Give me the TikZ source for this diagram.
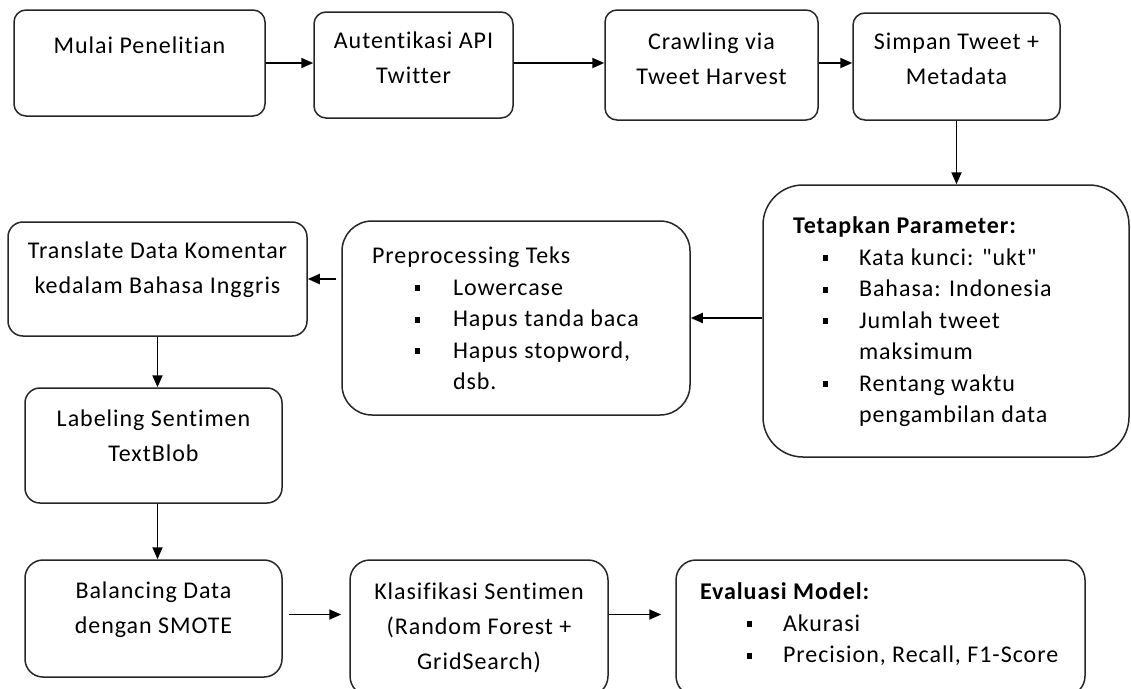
\documentclass[tikz,border=0pt]{standalone}
\usepackage{fontspec}
\setmainfont{Carlito}[LetterSpace=4,Ligatures={TeXOff,NoCommon}]
\usetikzlibrary{arrows.meta}

% box contents: width, height, top gap, text
\newcommand{\txtbox}[4]{\parbox[c][#2][t]{#1}{\vspace*{#3}\centering\strut#4}}
\newcommand{\lstbox}[4]{\parbox[c][#2][t]{#1}{\vspace*{#3}\raggedright\strut#4}}
\newcommand{\bul}[2]{\hspace*{#1}\makebox[#2][l]{\rule[4pt]{5pt}{6pt}}}

\begin{document}
\begin{tikzpicture}[x=1pt,y=-1pt,
      box/.style={draw=black!85,line width=1.5pt,rounded corners=12pt,
                  inner sep=0pt,font=\fontsize{24}{35}\selectfont},
      lst/.style={box,font=\fontsize{24}{31.5}\selectfont},
      arr/.style={-{Triangle[length=12pt,width=10pt]},line width=1.9pt}]
    \useasboundingbox (0,0) rectangle (1131,688);
    % top row
    \node[box] (mulai) at (139.5,63) {\txtbox{251pt}{106pt}{19pt}{Mulai Penelitian}};
    \node[box] (auth) at (413.5,65) {\txtbox{199pt}{106pt}{12pt}{Autentikasi API\\Twitter}};
    \node[box] (crawl) at (711.5,65) {\txtbox{213pt}{110pt}{15pt}{Crawling via\\Tweet Harvest}};
    \node[box] (simpan) at (956.5,66.5) {\txtbox{207pt}{107pt}{12pt}{Simpan Tweet +\\Metadata}};
    % middle row
    \node[lst,rounded corners=40pt] (param) at (946,321) {\lstbox{366pt}{272pt}{26.5pt}{%
      \hspace*{30pt}\textbf{Tetapkan Parameter:}\\
      \bul{60pt}{36pt}Kata kunci: "ukt"\\
      \bul{60pt}{36pt}Bahasa: Indonesia\\
      \bul{60pt}{36pt}Jumlah tweet\\
      \hspace*{96pt}maksimum\\
      \bul{60pt}{36pt}Rentang waktu\\
      \hspace*{96pt}pengambilan data}};
    \node[lst,rounded corners=30pt] (prep) at (516,318) {\lstbox{348pt}{194pt}{20.5pt}{%
      \hspace*{30pt}Preprocessing Teks\\
      \bul{73pt}{38pt}Lowercase\\
      \bul{73pt}{38pt}Hapus tanda baca\\
      \bul{73pt}{38pt}Hapus stopword,\\
      \hspace*{111pt}dsb.}};
    \node[box,rounded corners=15pt] (trans) at (157.5,279) {\txtbox{299pt}{114pt}{12pt}{Translate Data Komentar\\kedalam Bahasa Inggris}};
    \node[box,rounded corners=15pt] (label) at (153.5,445.5) {\txtbox{257pt}{115pt}{14pt}{Labeling Sentimen\\TextBlob}};
    % bottom row
    \node[box,rounded corners=18pt] (balance) at (153.5,618.5) {\txtbox{257pt}{117pt}{14pt}{Balancing Data\\dengan SMOTE}};
    \node[box,rounded corners=20pt] (klas) at (479,628) {\txtbox{258pt}{136pt}{15pt}{Klasifikasi Sentimen\\(Random Forest +\\GridSearch)}};
    \node[lst,rounded corners=20pt] (eval) at (880.5,628) {\lstbox{409pt}{136pt}{17.5pt}{%
      \hspace*{24pt}\textbf{Evaluasi Model:}\\
      \bul{71pt}{36pt}Akurasi\\
      \bul{71pt}{36pt}Precision, Recall, F1-Score}};
    % connectors
    \draw[arr] (mulai.east) -- (auth.west |- mulai.east);
    \draw[arr] (auth.east |- mulai.east) -- (crawl.west |- mulai.east);
    \draw[arr] (crawl.east |- mulai.east) -- (simpan.west |- mulai.east);
    \draw[arr] (simpan.south) -- (simpan.south |- param.north);
    \draw[arr] (param.west |- prep.east) -- (prep.east);
    \draw[arr,shorten <=5pt] (prep.west |- trans.east) -- (trans.east);
    \draw[arr] (trans.south) -- (trans.south |- label.north);
    \draw[arr] (label.south -| trans.south) -- (trans.south |- balance.north);
    \draw[arr,shorten <=6pt,shorten >=8pt] ([yshift=4pt]balance.east) -- ([yshift=4pt]balance.east -| klas.west);
    \draw[arr,shorten >=14pt] ([yshift=4pt]balance.east -| klas.east) -- ([yshift=4pt]balance.east -| eval.west);
  \end{tikzpicture}
\end{document}
